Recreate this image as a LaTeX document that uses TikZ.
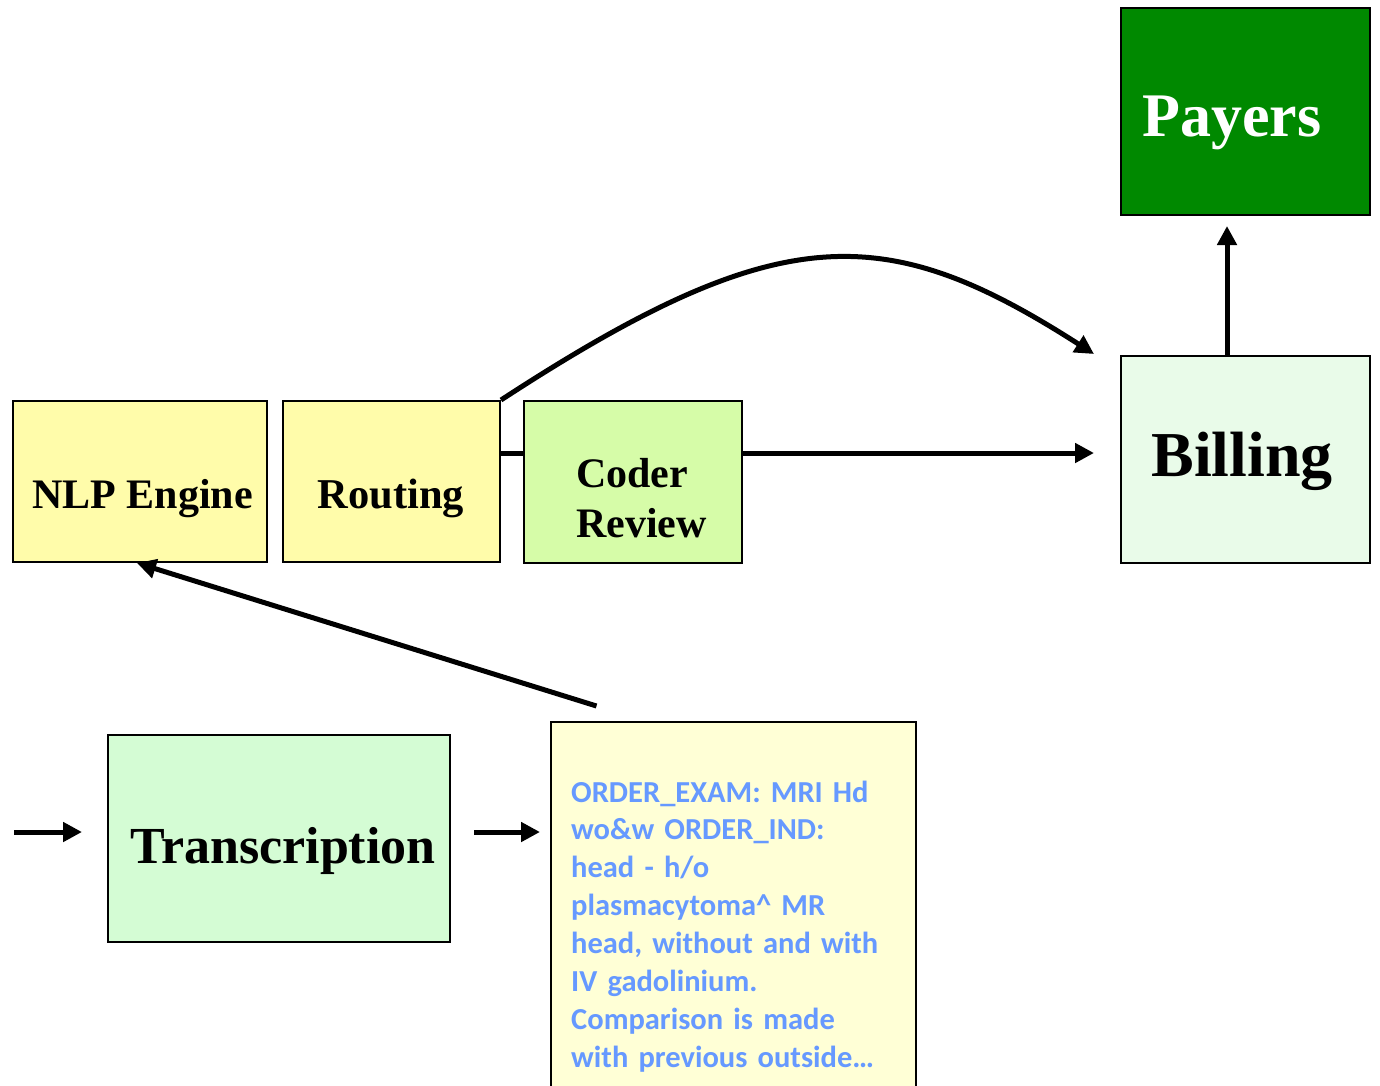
\documentclass[tikz,border=0pt]{standalone}
\usepackage{fontspec}
\setmainfont{Liberation Serif}
\newfontfamily\calib{Carlito}
\usetikzlibrary{arrows.meta,backgrounds}
\definecolor{payG}{RGB}{0,137,0}
\definecolor{billG}{RGB}{233,251,233}
\definecolor{nlpY}{RGB}{255,252,170}
\definecolor{coderG}{RGB}{214,252,168}
\definecolor{transG}{RGB}{212,252,212}
\definecolor{txtY}{RGB}{255,255,214}
\definecolor{blueT}{RGB}{102,153,255}
\begin{document}
\begin{tikzpicture}[x=1pt,y=-1pt,
  box/.style={draw=black,line width=2pt,inner sep=0pt},
  lbl/.style={inner sep=0pt,anchor=base,font=\bfseries},
  arr/.style={line width=5pt,-{Triangle[length=19pt,width=19pt]}}]
\useasboundingbox (0,0) rectangle (1380,1085);
\clip (0,0) rectangle (1380,1085);
% boxes
\node[box,fill=payG,minimum width=249pt,minimum height=207pt] (payers) at (1245.5,111.5) {};
\node[box,fill=billG,minimum width=249pt,minimum height=207pt] (billing) at (1245.5,459.5) {};
\node[box,fill=nlpY,minimum width=254pt,minimum height=161pt] (nlp) at (140,481.5) {};
\node[box,fill=nlpY,minimum width=217pt,minimum height=161pt] (routing) at (391.5,481.5) {};
\node[box,fill=coderG,minimum width=218pt,minimum height=162pt] (coder) at (633,482) {};
\node[box,fill=transG,minimum width=342pt,minimum height=207pt] (trans) at (279,838.5) {};
\node[box,fill=txtY,minimum width=365pt,minimum height=380pt] (txt) at (733.5,912) {};
% labels
\node[lbl,text=white,font=\fontsize{62}{62}\selectfont\bfseries] (payers-t) at (1232,136) {Payers};
\node[lbl,font=\fontsize{64}{64}\selectfont\bfseries] (billing-t) at (1242,476) {Billing};
\node[lbl,font=\fontsize{42}{42}\selectfont\bfseries] (nlp-t) at (142.5,508) {NLP Engine};
\node[lbl,font=\fontsize{42.5}{42.5}\selectfont\bfseries] (routing-t) at (391,508) {Routing};
\node[lbl,anchor=base west,text width=200pt,align=left,font=\fontsize{42}{50}\selectfont\bfseries] (coder-t) at (576,487) {Coder\\Review};
\node[lbl,font=\fontsize{52}{52}\selectfont\bfseries] (trans-t) at (283,863) {Transcription};
\node[lbl,anchor=base west,text width=345pt,align=left,text=blueT,font=\calib\fontsize{30.5}{37.9}\selectfont\bfseries] (txt-t) at (571,802)
  {ORDER\_EXAM: MRI Hd\\wo\&w ORDER\_IND:\\head - h/o\\plasmacytoma\textasciicircum{} MR\\head, without and with\\IV gadolinium.\\Comparison is made\\with previous outside…};
% connectors
\begin{pgfonlayer}{background}
\draw[arr,shorten >=26pt] ([yshift=28.5pt]routing.east) coordinate (h0) -- (h0 -| billing.west);
\end{pgfonlayer}
\draw[arr] (routing.north east) .. controls (780,218) and (885,220) .. ([xshift=-26pt,yshift=1pt]billing.north west);
\draw[arr,shorten >=10pt] ([xshift=-18.5pt]billing.north) -- ([xshift=-18.5pt]payers.south);
\draw[arr] ([xshift=46.5pt,yshift=15pt]txt.north west) -- ([xshift=-3pt]nlp.south);
\coordinate (inL) at (14,832);
\draw[arr,shorten >=25pt] (inL) -- (inL -| trans.west);
\draw[arr,shorten >=10pt] ([xshift=23pt,yshift=6.5pt]trans.east) coordinate (a1) -- (a1 -| txt.west);
\end{tikzpicture}
\end{document}
